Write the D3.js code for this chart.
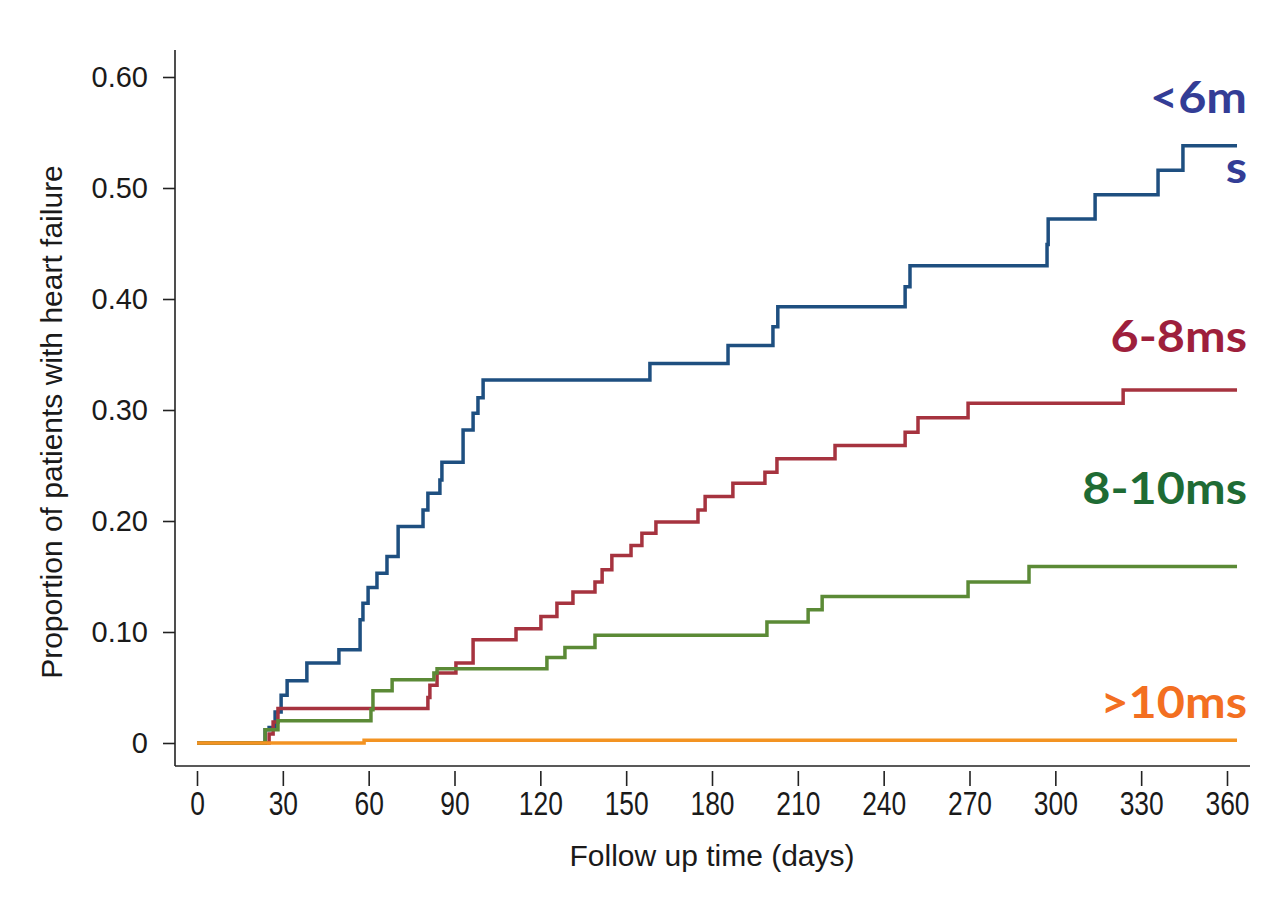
<!DOCTYPE html>
<html>
<head>
<meta charset="utf-8">
<script src="https://cdn.jsdelivr.net/npm/d3@7"></script>
<style>
  body { margin: 0; background: #fff; }
  svg { display: block; }
</style>
</head>
<body>
<svg width="1280" height="899"></svg>
<script>
// step points: [day, proportion]
const lt6ms = [
  [0, 0], [23.8, 0.012], [25.2, 0.014], [27.3, 0.028], [29.4, 0.043], [31.5, 0.056],
  [38.4, 0.072], [49.6, 0.084], [57, 0.111], [58, 0.126], [59.8, 0.140], [62.9, 0.153],
  [66.4, 0.168], [70.3, 0.195], [79, 0.210], [80.7, 0.225], [84.9, 0.237], [85.6, 0.253],
  [93, 0.282], [96.5, 0.297], [98.2, 0.311], [100, 0.327], [158.3, 0.342], [185.6, 0.358],
  [201.3, 0.375], [203, 0.393], [247.5, 0.411], [249.2, 0.430], [297.1, 0.449], [297.5, 0.472],
  [313.9, 0.494], [335.9, 0.516], [344.6, 0.538], [363.5, 0.538]
];
const ms6to8 = [
  [0, 0], [25.2, 0.008], [26.6, 0.019], [28.3, 0.031], [80.7, 0.041], [81.4, 0.052],
  [83.9, 0.063], [90.5, 0.072], [96.5, 0.093], [111.5, 0.103], [120.2, 0.114], [125.8, 0.126],
  [131.4, 0.136], [139.1, 0.145], [141.6, 0.156], [145, 0.169], [151.7, 0.178], [155.5, 0.189],
  [160.4, 0.199], [175.1, 0.210], [177.6, 0.222], [187.3, 0.234], [198.5, 0.244], [202.7, 0.256],
  [223, 0.268], [247.5, 0.280], [252, 0.293], [269.5, 0.306], [323.7, 0.318], [363.5, 0.318]
];
const ms8to10 = [
  [0, 0], [23.8, 0.012], [28.3, 0.020], [60.8, 0.030], [61.5, 0.047], [68.2, 0.057],
  [82.8, 0.063], [83.9, 0.067], [122.3, 0.077], [128.6, 0.086], [139.1, 0.097], [199.2, 0.109],
  [213.6, 0.120], [218.5, 0.132], [269.5, 0.145], [290.8, 0.159], [363.5, 0.159]
];
const gt10ms = [[0, 0], [58.4, 0.0025], [363.5, 0.0025]];

const xTicks = [0, 30, 60, 90, 120, 150, 180, 210, 240, 270, 300, 330, 360];
const yTicks = [0, 0.1, 0.2, 0.3, 0.4, 0.5, 0.6];

const series = [
  { data: lt6ms, color: "#1e4f80" },
  { data: ms6to8, color: "#a6333f" },
  { data: ms8to10, color: "#5b8a36" },
  { data: gt10ms, color: "#f39322" }
];

const labels = [
  { text: "<6m", y: 113, color: "#333d96" },
  { text: "s", y: 183, color: "#333d96" },
  { text: "6-8ms", y: 352, color: "#9e1f3c" },
  { text: "8-10ms", y: 504, color: "#1e6b34" },
  { text: ">10ms", y: 718, color: "#f36f21" }
];

const svg = d3.select("svg");

const x = d3.scaleLinear().domain([0, 360]).range([197, 1227]);
const y = d3.scaleLinear().domain([0, 0.6]).range([743, 77]);

const axisX = 175, axisY = 766;

// L-shaped frame
svg.append("line")
    .attr("x1", axisX).attr("x2", axisX)
    .attr("y1", 50).attr("y2", axisY)
    .attr("stroke", "#222").attr("stroke-width", 1.6);
svg.append("line")
    .attr("x1", axisX).attr("x2", 1250)
    .attr("y1", axisY).attr("y2", axisY)
    .attr("stroke", "#222").attr("stroke-width", 1.6);

// y axis
const gy = svg.append("g")
    .attr("transform", "translate(" + axisX + ",0)")
    .call(d3.axisLeft(y).tickValues(yTicks).tickSize(12).tickPadding(15)
      .tickFormat(d => d === 0 ? "0" : d3.format(".2f")(d)));
gy.select(".domain").remove();
gy.selectAll(".tick line").attr("stroke", "#222").attr("stroke-width", 1.6);
gy.selectAll(".tick text")
    .attr("font-family", "'Liberation Sans', Arial, sans-serif")
    .attr("font-size", 29)
    .attr("fill", "#1a1a1a");

// x axis, ticks hang below a small gap
const gx = svg.append("g")
    .attr("transform", "translate(0," + (axisY + 5) + ")")
    .call(d3.axisBottom(x).tickValues(xTicks).tickSize(15).tickPadding(0).tickFormat(d3.format("d")));
gx.select(".domain").remove();
gx.selectAll(".tick line").attr("stroke", "#222").attr("stroke-width", 1.6);
gx.selectAll(".tick text")
    .attr("font-family", "'Liberation Sans', Arial, sans-serif")
    .attr("font-size", 33)
    .attr("fill", "#1a1a1a")
    .attr("dy", null)
    .attr("y", 44)
    .attr("transform", "scale(0.8,1)");

svg.append("text")
    .attr("x", (x(0) + x(360)) / 2)
    .attr("y", 866)
    .attr("text-anchor", "middle")
    .attr("font-family", "'Liberation Sans', Arial, sans-serif")
    .attr("font-size", 30)
    .attr("fill", "#1a1a1a")
    .text("Follow up time (days)");

svg.append("text")
    .attr("transform", "translate(62," + (y(0.3) + 12) + ") rotate(-90)")
    .attr("text-anchor", "middle")
    .attr("font-family", "'Liberation Sans', Arial, sans-serif")
    .attr("font-size", 30)
    .attr("fill", "#1a1a1a")
    .text("Proportion of patients with heart failure");

const line = d3.line()
    .x(d => x(d[0]))
    .y(d => y(d[1]))
    .curve(d3.curveStepAfter);

svg.append("g").selectAll("path")
  .data(series)
  .join("path")
    .attr("fill", "none")
    .attr("stroke", d => d.color)
    .attr("stroke-width", 3.5)
    .attr("stroke-linejoin", "miter")
    .attr("d", d => line(d.data));

// series labels, stretched a bit to match the wider bold face
svg.append("g").selectAll("text")
  .data(labels)
  .join("text")
    .attr("transform", d => "translate(1247," + d.y + ") scale(1.13,1)")
    .attr("text-anchor", "end")
    .attr("font-family", "Lato, 'Open Sans', sans-serif")
    .attr("font-weight", "bold")
    .attr("font-size", 43)
    .attr("fill", d => d.color)
    .text(d => d.text);
</script>
</body>
</html>
